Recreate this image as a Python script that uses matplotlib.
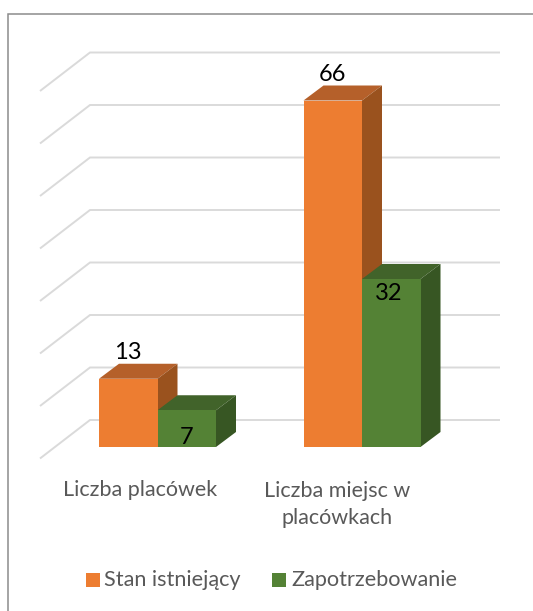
import matplotlib
matplotlib.use('Agg')
import matplotlib.pyplot as plt
from matplotlib.patches import Polygon, Rectangle

plt.rcParams['font.family'] = ['Lato', 'DejaVu Sans']

categories = ['Liczba placówek', 'Liczba miejsc w\nplacówkach']
series_names = ['Stan istniejący', 'Zapotrzebowanie']
stan = [13, 66]
zapotrzebowanie = [7, 32]
grid_values = [0, 10, 20, 30, 40, 50, 60, 70]

front_colors = ['#ED7D31', '#548235']
top_colors = ['#B5602A', '#41632A']
side_colors = ['#9A521E', '#375623']

W, H = 533, 611
PX_X = 204.5   # pikseli na kategorie
PX_Y = 5.25    # pikseli na jednostke
X0, Y0 = 157.5, 447
BAR_W = 58.5 / PX_X
DX, DY = 20 / PX_X, 15 / PX_Y   # glebokosc slupka

# przesuniecie etykiet zielonych slupkow wzgledem gory (px)
green_label_drop = [27, 14]
green_label_shift = [0, -3]

fig = plt.figure(figsize=(W / 100, H / 100), dpi=100)
ax = fig.add_axes([0, 0, 1, 1])
ax.set_xlim(-X0 / PX_X, (W - X0) / PX_X)
ax.set_ylim((Y0 - H) / PX_Y, Y0 / PX_Y)
ax.axis('off')

# siatka: sciana boczna + tylna
for v in grid_values:
    x_a = (40 - X0) / PX_X
    x_b = (90 - X0) / PX_X
    x_c = (500 - X0) / PX_X
    y_front = v - 11.5 / PX_Y
    y_back = v + 27 / PX_Y
    ax.plot([x_a, x_b, x_c], [y_front, y_back, y_back], color='#DADADA', lw=1.4,
            solid_joinstyle='miter', solid_capstyle='butt', zorder=1)


def bar3d(x, v, i):
    ax.add_patch(Polygon([(x, v), (x + DX, v + DY), (x + BAR_W + DX, v + DY), (x + BAR_W, v)],
                         fc=top_colors[i], ec='none', zorder=3))
    ax.add_patch(Polygon([(x + BAR_W, 0), (x + BAR_W + DX, DY), (x + BAR_W + DX, v + DY), (x + BAR_W, v)],
                         fc=side_colors[i], ec='none', zorder=3))
    ax.add_patch(Rectangle((x, 0), BAR_W, v, fc=front_colors[i], ec='none', zorder=4))


for c in range(len(categories)):
    bar3d(c - BAR_W, stan[c], 0)
    bar3d(c, zapotrzebowanie[c], 1)
    ax.text(c - BAR_W / 2, stan[c] + 26 / PX_Y, str(stan[c]), fontsize=17, color='black',
            ha='center', va='center', zorder=6)
    ax.text(c + BAR_W / 2 + green_label_shift[c] / PX_X, zapotrzebowanie[c] - green_label_drop[c] / PX_Y,
            str(zapotrzebowanie[c]), fontsize=17, color='black', ha='center', va='center', zorder=6)

# etykiety kategorii
ax.text((140.5 - X0) / PX_X, (Y0 - 490) / PX_Y, categories[0], fontsize=15.5, color='#595959',
        ha='center', va='center')
ax.text((337.5 - X0) / PX_X, (Y0 - 504.5) / PX_Y, categories[1], fontsize=15.5, color='#595959',
        ha='center', va='center', linespacing=1.45)

# legenda
for name, col, sq, tx in zip(series_names, front_colors, [85.5, 272], [104, 291]):
    ax.add_patch(Rectangle(((sq - X0) / PX_X, (Y0 - 587) / PX_Y), 14 / PX_X, 14 / PX_Y, fc=col, ec='none'))
    ax.text((tx - X0) / PX_X, (Y0 - 580) / PX_Y, name, fontsize=15.6, color='#595959', ha='left', va='center')

# ramka obrazka
fig.add_artist(plt.Line2D([7.5 / W, 7.5 / W, 1], [0, 1 - 13.5 / H, 1 - 13.5 / H], color='#8C8C8C', lw=1.1,
                          solid_joinstyle='miter'))

fig.savefig('out.png', dpi=100)
